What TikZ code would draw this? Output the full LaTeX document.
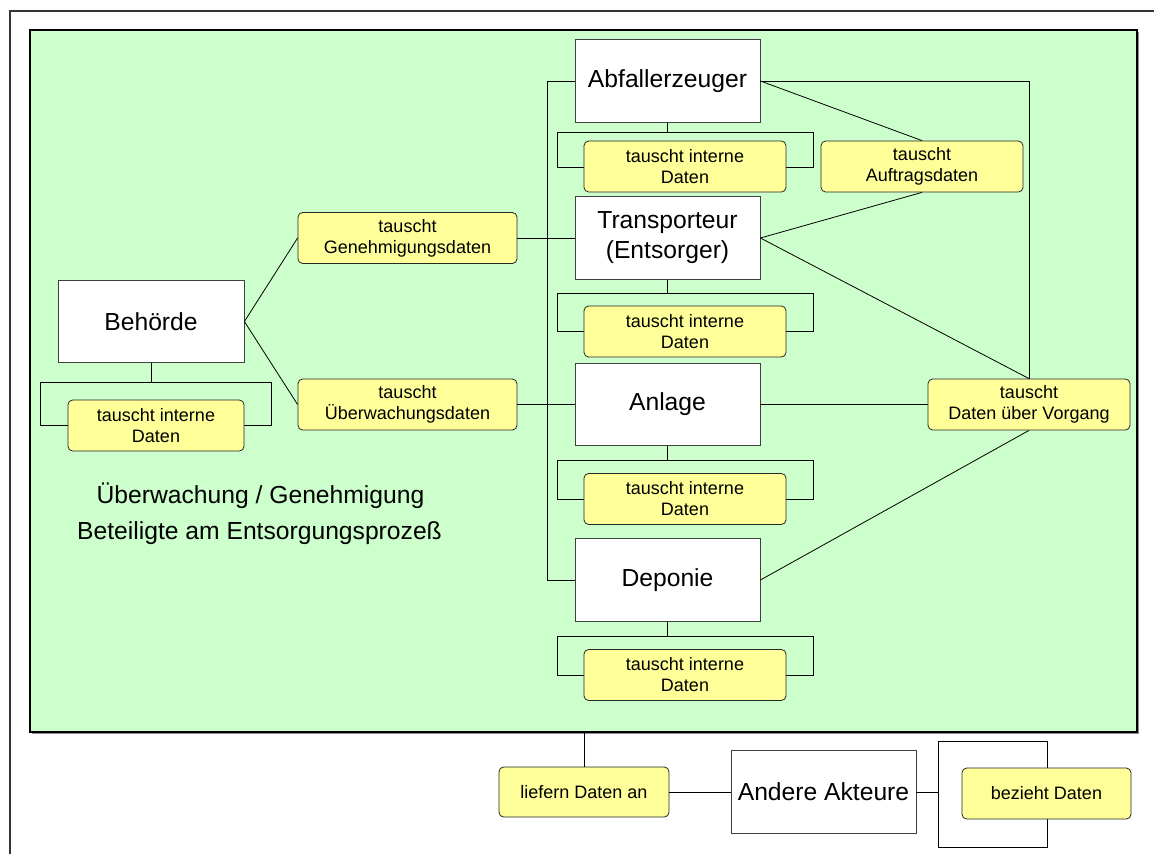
\documentclass[tikz,border=0pt]{standalone}
\usepackage{fontspec}
\setmainfont{Liberation Sans}
\definecolor{greenc}{HTML}{CCFFCC}
\definecolor{yellowc}{HTML}{FFFF99}
\begin{document}
\begin{tikzpicture}[x=0.75pt,y=-0.75pt,
  wbox/.style={draw=black!75, fill=white, line width=0.6pt, minimum width=138.75pt, minimum height=62pt, inner sep=0pt, align=center, font=\fontsize{18.5}{22.5}\selectfont},
  ybox/.style={draw=black!85, fill=yellowc, rounded corners=3.5pt, line width=0.6pt, minimum width=151.5pt, minimum height=38.25pt, inner sep=0pt, align=center, font=\fontsize{13.5}{15.75}\selectfont},
  conn/.style={draw=black, line width=0.6pt},
  lbl/.style={font=\fontsize{18.5}{22}\selectfont, inner sep=0pt}]
\useasboundingbox (0,0) rectangle (1154,854);
% outer frame
\draw[line width=1.4pt, black!80] (10,854) -- (10,11) -- (1154,11);
% green area
\draw[black!45, line width=1pt] (32,733.5) -- (1138.5,733.5) -- (1138.5,32);
\draw[fill=greenc, line width=0.9pt] (30,30) rectangle (1137,732);
% brackets behind the internal-data boxes
\draw[conn] (557,132) rectangle (813,167);
\draw[conn] (557,293) rectangle (813,331);
\draw[conn] (557,460) rectangle (813,499);
\draw[conn] (557,636) rectangle (813,675);
\draw[conn] (40,382) rectangle (271,425.5);
\node[draw=black, fill=white, line width=0.7pt, minimum width=81.75pt, minimum height=79.5pt, inner sep=0pt] (bzr) at (992.5,794) {};
% main boxes
\node[wbox] (abf) at (667.5,81) {Abfallerzeuger};
\node[wbox] (trans) at (667.5,238) {Transporteur\\(Entsorger)};
\node[wbox] (anl) at (667.5,404.5) {Anlage};
\node[wbox] (dep) at (667.5,580) {Deponie};
\node[wbox, minimum width=139.5pt] (beh) at (151,321.5) {Behörde};
\node[wbox] (and) at (823.5,792) {Andere Akteure};
% yellow boxes
\node[ybox] (i1) at (685,166.5) {tauscht interne\\Daten};
\node[ybox] (i2) at (685,331.5) {tauscht interne\\Daten};
\node[ybox] (i3) at (685,499) {tauscht interne\\Daten};
\node[ybox] (i4) at (685,675) {tauscht interne\\Daten};
\node[ybox, minimum width=132pt] (i0) at (156,425.5) {tauscht interne\\Daten};
\node[ybox, minimum width=164.25pt] (gen) at (407.5,238) {tauscht\\Genehmigungsdaten};
\node[ybox, minimum width=164.25pt] (ueb) at (407.5,404.5) {tauscht\\Überwachungsdaten};
\node[ybox] (auf) at (922,166.5) {tauscht\\Auftragsdaten};
\node[ybox] (dv) at (1029,404.5) {tauscht\\Daten über Vorgang};
\node[ybox, minimum width=127.5pt, minimum height=37.5pt] (lief) at (584,792) {liefern Daten an};
\node[ybox, minimum width=126.75pt] (bez) at (1046.5,793.5) {bezieht Daten};
% texts
\node[lbl] (t1) at (260.5,496) {Überwachung / Genehmigung};
\node[lbl] (t2) at (259.5,533) {Beteiligte am Entsorgungsprozeß};
% coordinates
\coordinate (bt) at (547,81);
\coordinate (bb) at (547,580);
\coordinate (gb) at (584,732);
% stems
\draw[conn] (abf.south) -- ++(0,9.5);
\draw[conn] (trans.south) -- ++(0,13.5);
\draw[conn] (anl.south) -- ++(0,14);
\draw[conn] (dep.south) -- ++(0,14);
\draw[conn] (beh.south) -- ++(0,18.5);
% bus
\draw[conn] (abf.west) -- (bt) -- (bb) -- (dep.west);
\draw[conn] (trans.west) -- (gen.east);
\draw[conn] (anl.west) -- (ueb.east);
% Behoerde
\draw[conn] (beh.east) -- (gen.west);
\draw[conn] (beh.east) -- (ueb.west);
% right side
\draw[conn] (abf.east) -- (abf.east -| dv.north) -- (dv.north);
\draw[conn] (abf.east) -- (auf.north);
\draw[conn] (trans.east) -- (auf.south);
\draw[conn] (trans.east) -- (dv.north);
\draw[conn] (anl.east) -- (dv.west);
\draw[conn] (dep.east) -- (dv.south);
% bottom
\draw[conn] (gb) -- (lief.north);
\draw[conn] (lief.east) -- (and.west);
\draw[conn] (and.east) -- (and.east -| bzr.west);
\end{tikzpicture}
\end{document}
